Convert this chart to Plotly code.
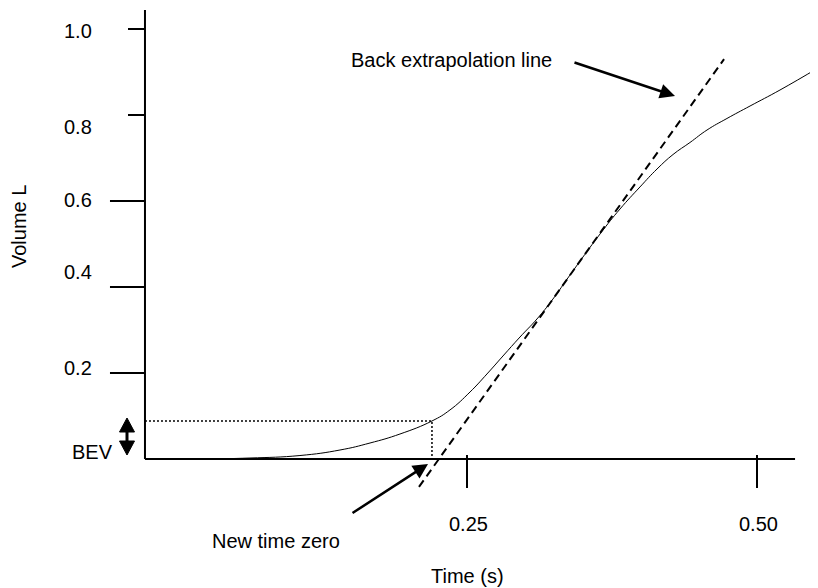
import plotly.graph_objects as go

# ---------------- data ----------------
TIME_S = [-0.0276, 0.0198, 0.0629, 0.1060, 0.1405, 0.1664, 0.1922, 0.2198, 0.2353,
          0.2526, 0.2672, 0.2810, 0.2957, 0.3103, 0.3241, 0.3388, 0.3647,
          0.3819, 0.3991, 0.4138, 0.4276, 0.4422, 0.4569, 0.4741, 0.4940, 0.5198, 0.5526]
VOLUME_L = [0.000, 0.000, 0.0023, 0.0081, 0.0209, 0.0372, 0.0581, 0.0884, 0.1140,
            0.1558, 0.1977, 0.2395, 0.2837, 0.3256, 0.3721, 0.4279, 0.5233,
            0.5814, 0.6326, 0.6744, 0.7081, 0.7360, 0.7651, 0.7919, 0.8209, 0.8581, 0.9093]
BACK_T = [0.2086, 0.4716]      # back extrapolation line
BACK_V = [-0.065, 0.930]
NEW_T0 = 0.2198                # new time zero
BEV_L = 0.0884                 # back extrapolated volume
Y_TICKS = [1.0, 0.8, 0.6, 0.4, 0.2]
Y_TICK_LABELS = ["1.0", "0.8", "0.6", "0.4", "0.2"]
X_TICKS = [0.25, 0.50]
X_TICK_LABELS = ["0.25", "0.50"]

# ---------------- layout constants ----------------
PAGE_W, PAGE_H = 818, 588
OFF = 8                          # default page body margin
W, H = PAGE_W - OFF, PAGE_H - OFF
X0_PX, PX_PER_S = 177, 1160      # page pixel of t=0, pixels per second
Y0_PX, PX_PER_L = 459, 430       # page pixel of v=0, pixels per litre
AXIS_T = -0.0276                 # where the vertical axis is drawn
AXIS_T_END = 0.5328
AXIS_V_TOP = 1.044
BEV_ARROW_T = -0.0431            # x position of the BEV double arrow
Y_TICK_LEN = [17, 17, 35, 35, 35]
Y_LABEL_SHIFT = [-2, -12, 1, 15, 5]
FONT = "Liberation Sans, Arial, sans-serif"
FS = 20


def xp(px):
    return (px - OFF) / W


def yp(py):
    return 1 - (py - OFF) / H


fig = go.Figure()

# spirometry curve
fig.add_trace(go.Scatter(x=TIME_S, y=VOLUME_L, mode="lines",
                         line=dict(color="black", width=1, shape="spline", smoothing=1.3),
                         hoverinfo="skip", showlegend=False))
# back extrapolation line
fig.add_trace(go.Scatter(x=BACK_T, y=BACK_V, mode="lines",
                         line=dict(color="black", width=2, dash="8px,5px"),
                         hoverinfo="skip", showlegend=False))
# dotted BEV guides
fig.add_trace(go.Scatter(x=[AXIS_T, NEW_T0, NEW_T0], y=[BEV_L, BEV_L, 0],
                         mode="lines", line=dict(color="black", width=1.5, dash="2px,2px"),
                         hoverinfo="skip", showlegend=False))

shapes = []
# axes
shapes.append(dict(type="line", xref="x", yref="y", x0=AXIS_T, x1=AXIS_T, y0=0, y1=AXIS_V_TOP,
                   line=dict(color="black", width=2)))
shapes.append(dict(type="line", xref="x", yref="y", x0=AXIS_T, x1=AXIS_T_END, y0=0, y1=0,
                   line=dict(color="black", width=2)))
# y ticks
for v, ln in zip(Y_TICKS, Y_TICK_LEN):
    shapes.append(dict(type="line", xref="x", yref="y", xsizemode="pixel", xanchor=AXIS_T,
                       x0=-ln, x1=0, y0=v, y1=v, line=dict(color="black", width=2)))
# x ticks
for t in X_TICKS:
    shapes.append(dict(type="line", xref="x", yref="y", ysizemode="pixel", yanchor=0,
                       x0=t, x1=t, y0=-29, y1=4, line=dict(color="black", width=2)))

# BEV double-headed arrow (pixel-sized glyph anchored at the time axis)
bev_common = dict(xref="x", yref="y", xsizemode="pixel", ysizemode="pixel",
                  xanchor=BEV_ARROW_T, yanchor=0)
shapes.append(dict(type="path", path="M -7.5,27 L 0,41 L 7.5,27 Z",
                   fillcolor="black", line=dict(color="black", width=1), **bev_common))
shapes.append(dict(type="path", path="M -7.5,18 L 0,4 L 7.5,18 Z",
                   fillcolor="black", line=dict(color="black", width=1), **bev_common))
shapes.append(dict(type="line", x0=0, x1=0, y0=17, y1=28,
                   line=dict(color="black", width=3), **bev_common))

ann = []
for v, lab, sh in zip(Y_TICKS, Y_TICK_LABELS, Y_LABEL_SHIFT):
    ann.append(dict(x=AXIS_T, y=v, xref="x", yref="y", text=lab, showarrow=False,
                    xanchor="center", yanchor="middle", xshift=-67, yshift=sh,
                    font=dict(family=FONT, size=FS, color="black")))
for t, lab in zip(X_TICKS, X_TICK_LABELS):
    ann.append(dict(x=t, y=0, xref="x", yref="y", text=lab, showarrow=False,
                    xanchor="center", yanchor="middle", xshift=1, yshift=-65,
                    font=dict(family=FONT, size=FS, color="black")))


def label(text, px, py, anchor="center", angle=0):
    ann.append(dict(x=xp(px), y=yp(py), xref="paper", yref="paper", text=text,
                    showarrow=False, xanchor=anchor, yanchor="middle", textangle=angle,
                    font=dict(family=FONT, size=FS, color="black")))


label("Volume L", 19, 227, angle=-90)
label("Time (s)", 467, 576)
label("Back extrapolation line", 349, 60, anchor="left")
label("New time zero", 275.5, 541)
label("BEV", 92.5, 452)

# arrows
ann.append(dict(x=0.4293, y=0.8442, xref="x", yref="y", text="", showarrow=True,
                ax=-102, ay=-34, arrowhead=2, arrowsize=1.2, arrowwidth=2.5,
                arrowcolor="black", standoff=0))
ann.append(dict(x=0.2164, y=-0.0116, xref="x", yref="y", text="", showarrow=True,
                ax=-77, ay=50, arrowhead=2, arrowsize=1.2, arrowwidth=2.5,
                arrowcolor="black", standoff=0))

fig.update_layout(
    width=W, height=H, autosize=False,
    margin=dict(l=0, r=0, t=0, b=0),
    paper_bgcolor="white", plot_bgcolor="white",
    xaxis=dict(visible=False, range=[(OFF - X0_PX) / PX_PER_S, (PAGE_W - X0_PX) / PX_PER_S],
               fixedrange=True),
    yaxis=dict(visible=False, range=[(Y0_PX - PAGE_H) / PX_PER_L, (Y0_PX - OFF) / PX_PER_L],
               fixedrange=True),
    shapes=shapes, annotations=ann, showlegend=False,
)

fig.write_html("out.html", config={"displayModeBar": False})
